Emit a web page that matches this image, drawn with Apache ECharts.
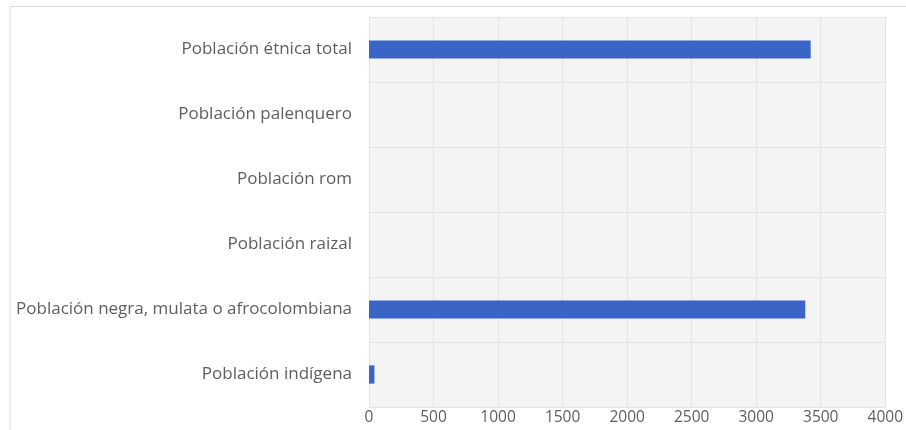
<!DOCTYPE html>
<html>
<head>
<meta charset="utf-8">
<script src="https://cdn.jsdelivr.net/npm/echarts@6/dist/echarts.min.js"></script>
<style>
  * { margin: 0; padding: 0; }
  body { background: #fff; }
  #main { width: 906px; height: 430px; }
</style>
</head>
<body>
<div id="main"></div>
<script>
// categorias de abajo hacia arriba (como en el eje)
const categorias = [
  "Población indígena",
  "Población negra, mulata o afrocolombiana",
  "Población raizal",
  "Población rom",
  "Población palenquero",
  "Población étnica total"
];
const valores = [42, 3380, 0, 0, 0, 3422];
const ejeMin = 0;
const ejeMax = 4000;
const ejePaso = 500;

const chart = echarts.init(document.getElementById("main"));
chart.setOption({
  animation: false,
  textStyle: { fontFamily: "Open Sans" },
  graphic: [
    {
      type: "polyline",
      shape: { points: [[10, 430], [10, 6.5], [906, 6.5]] },
      style: { stroke: "#d9d9d9", lineWidth: 1, fill: null }
    }
  ],
  grid: {
    left: 369,
    right: 19,
    top: 17,
    bottom: 23,
    show: true,
    backgroundColor: "#f4f4f4",
    borderWidth: 0
  },
  xAxis: {
    type: "value",
    min: ejeMin,
    max: ejeMax,
    interval: ejePaso,
    axisLine: { show: false },
    axisTick: { show: false },
    axisLabel: {
      color: "#5e5e5e",
      fontSize: 15.5,
      margin: 3,
      formatter: function (v) { return String(v); }
    },
    splitLine: { lineStyle: { color: "#e3e3e3", width: 1 } }
  },
  yAxis: {
    type: "category",
    data: categorias,
    axisLine: { show: false },
    axisTick: { show: false },
    axisLabel: { color: "#5e5e5e", fontSize: 17, margin: 17 },
    splitLine: { show: true, lineStyle: { color: "#e3e3e3", width: 1 } }
  },
  series: [
    {
      type: "bar",
      data: valores,
      barWidth: "28%",
      itemStyle: { color: "#3a64c6" }
    }
  ]
});
</script>
</body>
</html>
